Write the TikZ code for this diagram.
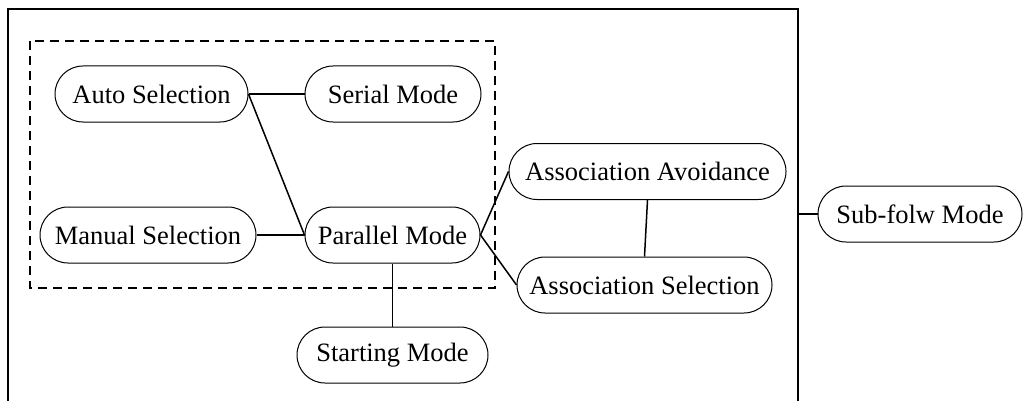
\documentclass[tikz,border=0pt]{standalone}
\usepackage{fontspec}
\setmainfont{Liberation Serif}
\begin{document}
\begin{tikzpicture}[x=1pt,y=-1pt,
  mode/.style={draw, line width=1pt, rectangle, rounded corners=28pt,
    minimum height=56pt, inner sep=0pt, font=\fontsize{26.5}{30}\selectfont},
  link/.style={line width=1.5pt},
  frame/.style={line width=1.6pt},
  group/.style={line width=1.4pt, dash pattern=on 9pt off 6pt}]
\useasboundingbox (0,0) rectangle (1024,401);

% outer frame (open at the bottom) and the selection group
\draw[frame] (8,410) -- (8,9) -- (798,9) -- (798,410);
\coordinate (frameE) at (798,214);
\draw[group] (30,41) rectangle (495,288);

% modes
\node[mode, minimum width=193pt] (auto)     at (151.5,94)  {Auto Selection};
\node[mode, minimum width=176pt] (serial)   at (393,94)    {Serial Mode};
\node[mode, minimum width=216pt] (manual)   at (148,235)   {Manual Selection};
\node[mode, minimum width=175pt] (parallel) at (392.5,235) {Parallel Mode};
\node[mode, minimum width=191pt] (starting) at (392.5,355) {Starting Mode};
\node[mode, minimum width=277pt] (avoid)    at (647.5,171.5) {Association Avoidance};
\node[mode, minimum width=255pt] (assel)    at (644.5,285) {Association Selection};
\node[mode, minimum width=204pt] (subflow)  at (920,214)   {Sub-folw Mode};

% connections
\draw[link] (auto.east) -- (serial.west);
\draw[link] (auto.east) -- (parallel.west);
\draw[link] (manual.east) -- (parallel.west);
\draw[link] (parallel.south) -- (starting.north);
\draw[link] (parallel.east) -- (avoid.west);
\draw[link] (parallel.east) -- (assel.west);
\draw[link] (avoid.south) -- (assel.north);
\draw[link] (frameE) -- (subflow.west);
\end{tikzpicture}
\end{document}
